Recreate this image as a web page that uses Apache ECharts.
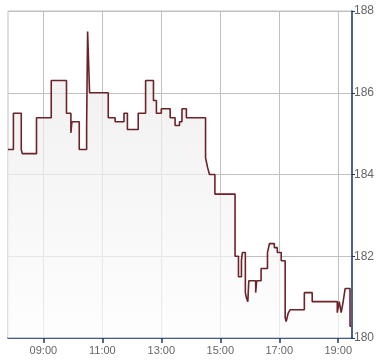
<!DOCTYPE html>
<html>
<head>
<meta charset="utf-8">
<script src="https://cdn.jsdelivr.net/npm/echarts@6/dist/echarts.min.js"></script>
<style>
html,body{margin:0;padding:0;background:#fff;}
#chart{width:390px;height:364px;}
</style>
</head>
<body>
<div id="chart"></div>
<script>
// Step points: time of change and the new price
var times = ["07:48","07:59","08:15","08:17","08:46","09:16","09:47","09:56","09:58","10:13",
  "10:28","10:30","10:34","11:12","11:26","11:44","11:51","12:13","12:28","12:44",
  "12:50","13:00","13:18","13:28","13:37","13:42","13:51","14:30","14:34","14:38",
  "14:49","15:30","15:37","15:43","15:45","15:51","15:53","15:56","15:58","16:12",
  "16:14","16:23","16:36","16:40","16:50","16:56","17:04","17:12","17:14","17:18",
  "17:22","17:51","18:07","18:58","19:02","19:06","19:10","19:14","19:24","19:26"];
var prices = [184.61,185.50,184.61,184.51,185.39,186.30,185.50,185.02,185.29,184.61,
  185.20,187.50,186.00,185.39,185.29,185.50,185.10,185.50,186.30,185.81,
  185.50,185.61,185.39,185.20,185.29,185.61,185.39,184.41,184.18,184.00,
  183.52,182.00,181.50,181.90,182.09,181.11,180.99,180.89,181.40,181.11,
  181.40,181.70,182.09,182.31,182.21,182.09,181.89,180.50,180.40,180.60,
  180.69,181.11,180.89,180.62,180.89,180.62,180.89,181.21,180.29,180.29];
var xTickLabels = ["09:00","11:00","13:00","15:00","17:00","19:00"];
var yTickLabels = [180,182,184,186,188];
var axisStart = "07:48", axisEnd = "19:28";

// x values are minutes since 07:00
function toMin(t){var p=t.split(":");return (+p[0]-7)*60+(+p[1]);}
function fmt(v){var h=Math.floor(v/60)+7, m=Math.round(v%60);return (h<10?"0":"")+h+":"+(m<10?"0":"")+m;}
var data = times.map(function(t,i){return [toMin(t), prices[i]];});
var xTicks = xTickLabels.map(toMin);

var chart = echarts.init(document.getElementById('chart'), null, {renderer:'canvas'});
chart.setOption({
  animation:false,
  backgroundColor:'#ffffff',
  grid:{left:8,right:38,top:11,bottom:26,show:true,borderColor:'#c0c0c0',borderWidth:1,backgroundColor:'transparent'},
  xAxis:[{
    type:'value', min:toMin(axisStart), max:toMin(axisEnd),
    axisLine:{show:true,lineStyle:{color:'#1c3a6b',width:1.5}},
    axisTick:{show:true,length:5,inside:false,customValues:xTicks,lineStyle:{color:'#1c3a6b',width:1.5}},
    axisLabel:{customValues:xTicks,formatter:function(v){return fmt(v);},
      color:'#666',fontFamily:'Liberation Sans, Arial, sans-serif',fontSize:11,margin:7},
    splitLine:{show:true,lineStyle:{color:'#c0c0c0',width:1}}
  }],
  yAxis:{
    type:'value', position:'right', min:yTickLabels[0], max:yTickLabels[yTickLabels.length-1], interval:2,
    axisLine:{show:true,lineStyle:{color:'#1c3a6b',width:1.5}},
    axisTick:{show:true,length:3,inside:false,lineStyle:{color:'#1c3a6b',width:1}},
    axisLabel:{color:'#666',fontFamily:'Liberation Sans, Arial, sans-serif',fontSize:12,margin:2},
    splitLine:{show:true,lineStyle:{color:'#c0c0c0',width:1}}
  },
  series:[{
    type:'line', step:'end', data:data, symbol:'none',
    lineStyle:{color:'#6b2229',width:1.6},
    areaStyle:{color:new echarts.graphic.LinearGradient(0,0,0,1,[{offset:0,color:'#e8e8e8'},{offset:1,color:'#fdfdfd'}])}
  }]
});
</script>
</body>
</html>
